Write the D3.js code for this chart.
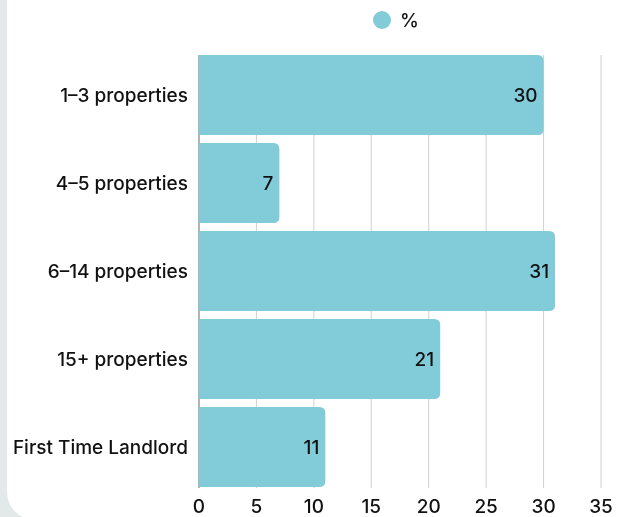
<!DOCTYPE html>
<html>
<head>
<meta charset="utf-8">
<script src="https://cdn.jsdelivr.net/npm/d3@7"></script>
<style>
  html, body { margin: 0; padding: 0; background: #e3e8e9; }
  #card { position: absolute; left: 7px; top: -40px; width: 660px; height: 560px;
          background: #fff; border-radius: 28px; }
  svg { position: absolute; left: 0; top: 0; }
  text { font-family: Inter, "Noto Sans", sans-serif; fill: #111; font-weight: 500; }
</style>
</head>
<body>
<div id="card"></div>
<svg id="chart" width="625" height="517"></svg>
<script>
  const categories = ['1–3 properties', '4–5 properties', '6–14 properties', '15+ properties', 'First Time Landlord'];
  const values = [30, 7, 31, 21, 11];
  const xTicks = [0, 5, 10, 15, 20, 25, 30, 35];
  const seriesName = '%';

  const COLOR = '#82cbd9';
  const FS = 19;
  const svg = d3.select('#chart');

  const x = d3.scaleLinear().domain([0, 35]).range([199, 601]);
  const y = d3.scaleBand().domain(categories).range([55, 487]).paddingInner(0.09).paddingOuter(0);

  // grid
  svg.append('g').selectAll('line')
    .data(xTicks.filter(t => t > 0))
    .join('line')
    .attr('x1', d => x(d)).attr('x2', d => x(d))
    .attr('y1', 55).attr('y2', 488)
    .attr('stroke', '#d0d0d0').attr('stroke-width', 1);

  // y axis line
  svg.append('line')
    .attr('x1', x(0)).attr('x2', x(0)).attr('y1', 55).attr('y2', 488)
    .attr('stroke', '#666').attr('stroke-width', 1);

  // bars with rounded right corners
  const r = 6;
  svg.append('g').selectAll('path')
    .data(values)
    .join('path')
    .attr('fill', COLOR)
    .attr('d', (d, i) => {
      const x0 = x(0), x1 = x(d), y0 = y(categories[i]), y1 = y0 + y.bandwidth();
      return `M${x0},${y0}H${x1 - r}Q${x1},${y0} ${x1},${y0 + r}V${y1 - r}Q${x1},${y1} ${x1 - r},${y1}H${x0}Z`;
    });

  // value labels
  svg.append('g').selectAll('text')
    .data(values)
    .join('text')
    .attr('x', d => x(d) - 6)
    .attr('y', (d, i) => y(categories[i]) + y.bandwidth() / 2)
    .attr('dy', '0.35em')
    .attr('text-anchor', 'end')
    .attr('font-size', FS)
    .text(d => d);

  // category labels
  svg.append('g').selectAll('text')
    .data(categories)
    .join('text')
    .attr('x', 188)
    .attr('y', d => y(d) + y.bandwidth() / 2)
    .attr('dy', '0.35em')
    .attr('text-anchor', 'end')
    .attr('font-size', FS)
    .text(d => d);

  // x tick labels
  svg.append('g').selectAll('text')
    .data(xTicks)
    .join('text')
    .attr('x', d => x(d))
    .attr('y', 506)
    .attr('dy', '0.35em')
    .attr('text-anchor', 'middle')
    .attr('font-size', FS)
    .text(d => d);

  // legend
  svg.append('circle').attr('cx', 382).attr('cy', 20).attr('r', 9).attr('fill', COLOR);
  svg.append('text').attr('x', 400).attr('y', 20).attr('dy', '0.35em')
    .attr('font-size', FS).text(seriesName);
</script>
</body>
</html>
